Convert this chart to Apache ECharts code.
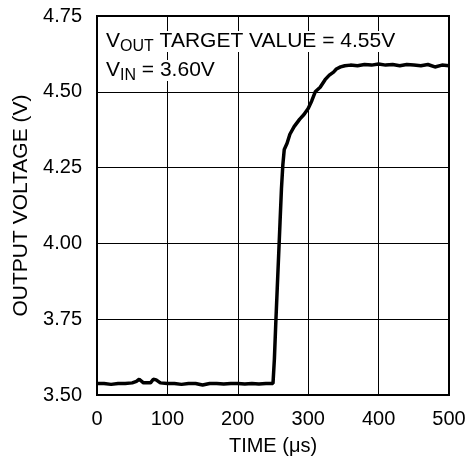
<!DOCTYPE html>
<html>
<head>
<meta charset="utf-8">
<script src="https://cdn.jsdelivr.net/npm/echarts@6/dist/echarts.min.js"></script>
<style>
  html, body { margin: 0; padding: 0; background: #fff; }
  #chart { width: 472px; height: 461px; }
</style>
</head>
<body>
<div id="chart"></div>
<script>
// time in us, output voltage in V
const timeUs = [0, 10, 20, 30, 40, 50, 56, 60, 66, 76, 80, 84, 90, 100, 110, 120, 130, 140, 150, 160, 170, 180, 190, 200, 210, 220, 230, 240, 250,
  252, 254, 256, 258, 260, 262, 264, 266, 270, 274, 280, 288, 294, 300, 305, 310, 317, 324, 330, 336, 340, 346, 352,
  360, 370, 380, 390, 400, 410, 420, 430, 440, 450, 460, 470, 480, 490, 500]
const voltOut = [3.538, 3.538, 3.535, 3.538, 3.538, 3.540, 3.545, 3.552, 3.540, 3.540, 3.552, 3.550, 3.540, 3.538, 3.538, 3.535, 3.538, 3.538, 3.533, 3.538, 3.538, 3.536, 3.538, 3.538, 3.536, 3.538, 3.536, 3.538, 3.538,
  3.62, 3.74, 3.85, 3.96, 4.07, 4.18, 4.26, 4.31, 4.33, 4.36, 4.385, 4.41, 4.425, 4.445, 4.47, 4.50, 4.515, 4.54, 4.555, 4.565, 4.575, 4.582, 4.586,
  4.588, 4.586, 4.590, 4.588, 4.592, 4.588, 4.590, 4.586, 4.590, 4.588, 4.586, 4.590, 4.582, 4.588, 4.586]
const xTicks = [0, 100, 200, 300, 400, 500]
const yTicks = [3.50, 3.75, 4.00, 4.25, 4.50, 4.75]

const chart = echarts.init(document.getElementById('chart'))
const font = 'Liberation Sans, Arial, sans-serif'

const noteRich = {
  m: { fontFamily: font, fontSize: 21, fill: '#000', backgroundColor: '#fff' },
  s: { fontFamily: font, fontSize: 16, fill: '#000', backgroundColor: '#fff', verticalAlign: 'bottom', padding: [11, 0, 0, 0] }
}

chart.setOption({
  animation: false,
  grid: {
    left: 97,
    top: 16,
    right: 23,
    bottom: 66,
    show: true,
    borderColor: '#000',
    borderWidth: 2
  },
  xAxis: {
    type: 'value',
    min: xTicks[0],
    max: xTicks[xTicks.length - 1],
    interval: 100,
    name: 'TIME (\u03bcs)',
    nameLocation: 'middle',
    nameGap: 41,
    nameTextStyle: { fontFamily: font, fontSize: 20, color: '#000' },
    axisLine: { show: false },
    axisTick: { show: false },
    axisLabel: { fontFamily: font, fontSize: 20, color: '#000', margin: 14 },
    splitLine: { show: true, lineStyle: { color: '#000', width: 1 } }
  },
  yAxis: {
    type: 'value',
    min: yTicks[0],
    max: yTicks[yTicks.length - 1],
    interval: 0.25,
    name: 'OUTPUT VOLTAGE (V)',
    nameLocation: 'middle',
    nameGap: 64,
    nameTextStyle: { fontFamily: font, fontSize: 21, color: '#000' },
    axisLine: { show: false },
    axisTick: { show: false },
    axisLabel: {
      fontFamily: font, fontSize: 20, color: '#000', margin: 15,
      formatter: v => v.toFixed(2)
    },
    splitLine: { show: true, lineStyle: { color: '#000', width: 1 } }
  },
  graphic: [{
    type: 'text',
    left: 106,
    top: 28,
    z: 10,
    style: { text: '{m|V}{s|OUT}{m| TARGET VALUE = 4.55V}', rich: noteRich }
  }, {
    type: 'text',
    left: 106,
    top: 57,
    z: 10,
    style: { text: '{m|V}{s|IN}{m| = 3.60V}', rich: noteRich }
  }],
  series: [{
    type: 'line',
    data: timeUs.map((t, i) => [t, voltOut[i]]),
    showSymbol: false,
    lineStyle: { color: '#000', width: 3.5 }
  }]
})
</script>
</body>
</html>
